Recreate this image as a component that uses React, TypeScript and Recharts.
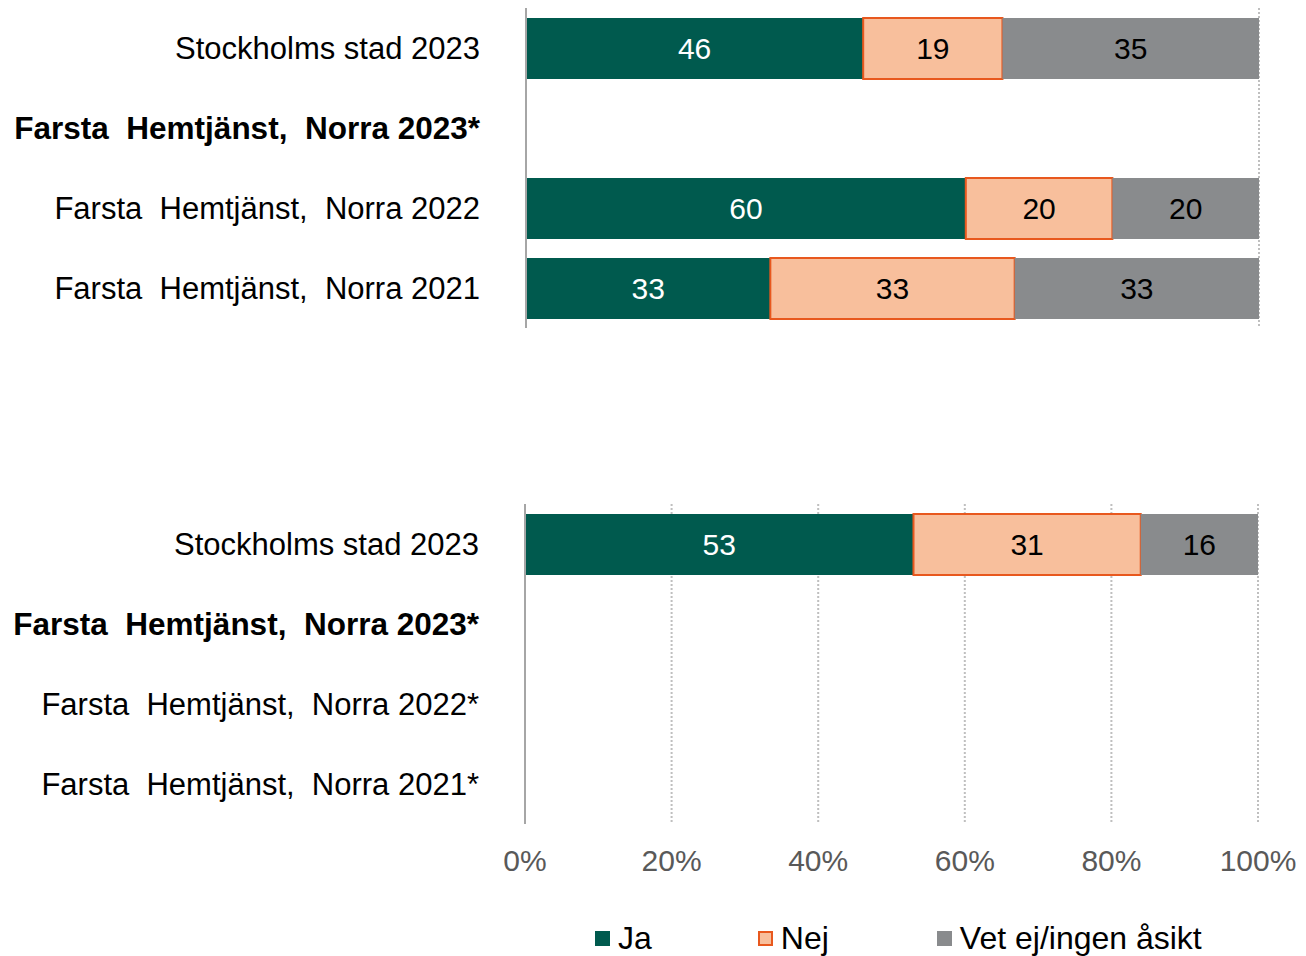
import { BarChart, Bar, XAxis, YAxis, CartesianGrid, LabelList, Legend } from 'recharts';

// Share of answers, per row (percent)
const topCategories = [
  'Stockholms stad 2023',
  'Farsta  Hemtjänst,  Norra 2023*',
  'Farsta  Hemtjänst,  Norra 2022',
  'Farsta  Hemtjänst,  Norra 2021',
];
const topJa = [46, null, 60, 33];
const topNej = [19, null, 20, 33];
const topVet = [35, null, 20, 33];

const bottomCategories = [
  'Stockholms stad 2023',
  'Farsta  Hemtjänst,  Norra 2023*',
  'Farsta  Hemtjänst,  Norra 2022*',
  'Farsta  Hemtjänst,  Norra 2021*',
];
const bottomJa = [53, null, null, null];
const bottomNej = [31, null, null, null];
const bottomVet = [16, null, null, null];

const boldCategories = ['Farsta  Hemtjänst,  Norra 2023*'];
const xTicks = [0, 0.2, 0.4, 0.6, 0.8, 1];

const seriesNames = ['Ja', 'Nej', 'Vet ej/ingen åsikt'];

const FONT = '"Liberation Sans", Arial, sans-serif';
const JA = '#005A4E';
const NEJ = '#F8BF9C';
const NEJ_STROKE = '#E8581E';
const VET = '#898B8D';

function buildRows(cats: string[], ja: (number | null)[], nej: (number | null)[], vet: (number | null)[]) {
  return cats.map((name, i) => ({ name, ja: ja[i], nej: nej[i], vet: vet[i] }));
}

const topData = buildRows(topCategories, topJa, topNej, topVet);
const bottomData = buildRows(bottomCategories, bottomJa, bottomNej, bottomVet);

const CategoryTick = (props: any) => {
  const { x, y, payload } = props;
  const bold = boldCategories.includes(payload.value);
  return (
    <text
      x={x - 46}
      y={y}
      dy={11}
      textAnchor="end"
      fontFamily={FONT}
      fontSize={bold ? 31.5 : 31}
      fontWeight={bold ? 'bold' : 'normal'}
      fill="#000"
      style={{ whiteSpace: 'pre' }}
    >
      {payload.value}
    </text>
  );
};

const fmtLabel = (v: any) => (v == null || v === 0 ? '' : v);

const LegendContent = () => {
  const colors = [JA, NEJ, VET];
  const gaps = [106, 108, 0];
  return (
    <div style={{ display: 'flex', paddingLeft: 595, height: 61, alignItems: 'flex-end', fontFamily: FONT, fontSize: 32, color: '#000' }}>
      {seriesNames.map((n, i) => (
        <div key={n} style={{ display: 'flex', alignItems: 'center', marginRight: gaps[i], lineHeight: '34px' }}>
          <span
            style={{
              display: 'inline-block',
              width: 15,
              height: 15,
              background: colors[i],
              border: i === 1 ? `2px solid ${NEJ_STROKE}` : 'none',
              boxSizing: 'border-box',
              marginRight: 8,
            }}
          />
          <span>{n}</span>
        </div>
      ))}
    </div>
  );
};

function Bars() {
  return [
    <Bar key="ja" dataKey="ja" stackId="s" fill={JA} barSize={61} isAnimationActive={false}>
      <LabelList dataKey="ja" position="center" fill="#fff" fontSize={30} fontFamily={FONT} formatter={fmtLabel} />
    </Bar>,
    <Bar key="nej" dataKey="nej" stackId="s" fill={NEJ} stroke={NEJ_STROKE} strokeWidth={2} barSize={61} isAnimationActive={false}>
      <LabelList dataKey="nej" position="center" fill="#000" fontSize={30} fontFamily={FONT} formatter={fmtLabel} />
    </Bar>,
    <Bar key="vet" dataKey="vet" stackId="s" fill={VET} barSize={61} isAnimationActive={false}>
      <LabelList dataKey="vet" position="center" fill="#000" fontSize={30} fontFamily={FONT} formatter={fmtLabel} />
    </Bar>,
  ];
}

export default function App() {
  return (
    <div style={{ position: 'absolute', left: 0, top: 0, width: 1306, height: 956, background: '#fff' }}>
      <div style={{ position: 'absolute', left: 0, top: 0 }}>
        <BarChart
          width={1306}
          height={334}
          data={topData}
          layout="vertical"
          stackOffset="expand"
          margin={{ top: 8, right: 47, left: 0, bottom: 6 }}
        >
          <CartesianGrid horizontal={false} stroke="#BFBFBF" strokeWidth={2} strokeDasharray="2 2" />
          <XAxis type="number" domain={[0, 1]} ticks={xTicks} tick={false} axisLine={false} tickLine={false} height={0} />
          <YAxis
            type="category"
            dataKey="name"
            width={526}
            tick={<CategoryTick />}
            tickLine={false}
            tickSize={0}
            tickMargin={0}
            axisLine={{ stroke: '#A6A6A6', strokeWidth: 2 }}
            interval={0}
          />
          {Bars()}
        </BarChart>
      </div>
      <div style={{ position: 'absolute', left: 0, top: 495 }}>
        <BarChart
          width={1306}
          height={460}
          data={bottomData}
          layout="vertical"
          stackOffset="expand"
          margin={{ top: 9, right: 48, left: 0, bottom: 0 }}
        >
          <CartesianGrid horizontal={false} stroke="#BFBFBF" strokeWidth={2} strokeDasharray="2 2" />
          <XAxis
            type="number"
            domain={[0, 1]}
            ticks={xTicks}
            tickFormatter={(v: number) => `${Math.round(v * 100)}%`}
            tick={{ fill: '#595959', fontSize: 30, fontFamily: FONT }}
            axisLine={false}
            tickLine={false}
            tickMargin={20}
            height={70}
          />
          <YAxis
            type="category"
            dataKey="name"
            width={525}
            tick={<CategoryTick />}
            tickLine={false}
            tickSize={0}
            tickMargin={0}
            axisLine={{ stroke: '#A6A6A6', strokeWidth: 2 }}
            interval={0}
          />
          {Bars()}
          <Legend verticalAlign="bottom" content={<LegendContent />} wrapperStyle={{ left: 0, width: 1306 }} />
        </BarChart>
      </div>
    </div>
  );
}
